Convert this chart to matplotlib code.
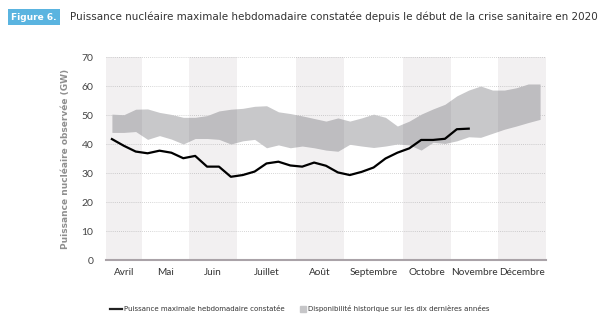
import matplotlib.pyplot as plt
import numpy as np

# Données (semaines depuis début avril 2020)
mois = ['Avril', 'Mai', 'Juin', 'Juillet', 'Août', 'Septembre', 'Octobre', 'Novembre', 'Décembre']
semaines_par_mois = [3, 4, 4, 5, 4, 5, 4, 4, 4]

puissance_max = [41.7, 39.4, 37.4, 36.8, 37.7, 37.0, 35.1, 35.9, 32.2, 32.2,
                 28.7, 29.3, 30.5, 33.3, 33.9, 32.6, 32.2, 33.6, 32.5, 30.2,
                 29.3, 30.4, 31.9, 35.0, 37.0, 38.5, 41.4, 41.4, 41.8, 45.1, 45.3]

histo_haut = [50.3, 50.1, 52.0, 52.1, 50.9, 50.2, 49.2, 49.2, 49.8, 51.4,
              52.0, 52.3, 53.0, 53.2, 51.1, 50.5, 49.7, 48.8, 47.9, 49.0,
              47.9, 49.0, 50.3, 49.2, 46.2, 47.9, 50.3, 52.1, 53.7, 56.6,
              58.6, 60.0, 58.6, 58.6, 59.4, 60.7, 60.7]
histo_bas = [44.0, 44.0, 44.3, 41.6, 42.9, 41.7, 40.0, 41.9, 41.9, 41.6,
             40.0, 41.1, 41.6, 38.7, 39.7, 38.7, 39.3, 38.7, 37.9, 37.5,
             39.9, 39.3, 38.8, 39.3, 40.0, 39.7, 37.9, 40.6, 40.2, 41.1,
             42.5, 42.3, 43.7, 45.1, 46.2, 47.4, 48.5]

fig = plt.figure(figsize=(6.09, 3.29), dpi=100)
ax = fig.add_axes([0.174, 0.2097, 0.7226, 0.617])

x_histo = np.arange(len(histo_haut))
x_puis = np.arange(len(puissance_max))

# bande historique
ax.fill_between(x_histo, histo_bas, histo_haut, color='#c8c8ca', lw=0, zorder=1)

# bandes de mois (une sur deux)
debuts = np.cumsum([0] + semaines_par_mois[:-1]) - 0.5
for k, (d, n) in enumerate(zip(debuts, semaines_par_mois)):
    if k % 2 == 0:
        ax.axvspan(d, d + n, color=(0.16, 0.06, 0.13), alpha=0.06, lw=0, zorder=2)

# grille pointillée
for yv in range(10, 80, 10):
    ax.axhline(yv, color='#c8c8c8', lw=0.6, ls=(0, (1, 1.5)), zorder=0.5)

ax.plot(x_puis, puissance_max, color='black', lw=1.6, zorder=3)

ax.set_xlim(-0.5, len(histo_haut) - 0.5)
ax.set_ylim(0, 70)
ax.set_yticks(range(0, 80, 10))
ax.tick_params(axis='y', length=0, pad=9, labelsize=7.5, labelcolor='#444444')
ax.set_xticks(debuts + np.array(semaines_par_mois) / 2)
ax.set_xticklabels(mois)
ax.tick_params(axis='x', length=0, pad=6, labelsize=7.2, labelcolor='#333333')
for lab in ax.get_xticklabels() + ax.get_yticklabels():
    lab.set_family('Lato')
for s in ['top', 'right', 'left']:
    ax.spines[s].set_visible(False)
ax.spines['bottom'].set_color('#aaa3a8')
ax.spines['bottom'].set_linewidth(1.5)
ax.spines['bottom'].set_zorder(4)

ax.set_ylabel('Puissance nucléaire observée (GW)', fontsize=6.5, color='#8f8f8f',
              fontweight='bold', labelpad=8)

# titre
fig.text(0.018, 0.948, 'Figure 6.', fontsize=6.5, fontweight='bold', color='white',
         va='center', bbox=dict(boxstyle='square,pad=0.35', fc='#5ab4e0', ec='none'))
fig.text(0.115, 0.948, 'Puissance nucléaire maximale hebdomadaire constatée depuis le début de la crise sanitaire en 2020',
         fontsize=7.5, color='#333333', va='center')

# légende
fig.lines.append(plt.Line2D([0.181, 0.201], [0.061, 0.061], color='#222222', lw=1.6,
                            transform=fig.transFigure))
fig.text(0.204, 0.061, 'Puissance maximale hebdomadaire constatée', fontsize=5.0,
         color='#333333', va='center')
fig.patches.append(plt.Rectangle((0.492, 0.052), 0.01, 0.018, color='#c6c6c8',
                                 transform=fig.transFigure))
fig.text(0.505, 0.061, 'Disponibilité historique sur les dix dernières années', fontsize=5.0,
         color='#333333', va='center')

fig.savefig('out.png', dpi=100)
